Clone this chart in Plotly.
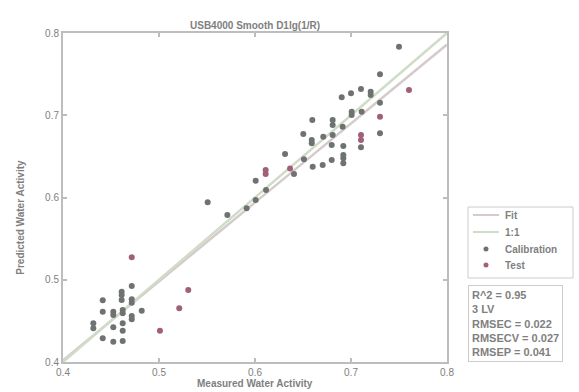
import plotly.graph_objects as go

# ---- data ----
cal_x = [0.4716, 0.4611, 0.4611, 0.4414, 0.4611, 0.4716, 0.4716, 0.4820, 0.4414, 0.4524,
         0.4524, 0.4622, 0.4622, 0.4716, 0.4716, 0.4316, 0.4316, 0.4524, 0.4622, 0.4622,
         0.4414, 0.4524, 0.4622,
         0.5507, 0.5712, 0.5913, 0.6007, 0.6115, 0.6007, 0.6406, 0.6313, 0.6510, 0.6601,
         0.7500, 0.7302, 0.7104, 0.7000, 0.6903, 0.7205, 0.7205, 0.7302, 0.7007, 0.7007,
         0.7111, 0.6913, 0.6597, 0.6809, 0.6809, 0.7302, 0.7104, 0.6503, 0.6711, 0.6809,
         0.6591, 0.6591, 0.6799, 0.6920, 0.6920, 0.6920, 0.6799, 0.6705, 0.6920]
cal_y = [0.4924, 0.4855, 0.4815, 0.4750, 0.4754, 0.4762, 0.4721, 0.4624, 0.4612, 0.4612,
         0.4571, 0.4632, 0.4592, 0.4559, 0.4519, 0.4471, 0.4410, 0.4422, 0.4471, 0.4381,
         0.4288, 0.4247, 0.4255,
         0.5942, 0.5787, 0.5869, 0.5970, 0.6091, 0.6204, 0.6286, 0.6529, 0.6464, 0.6374,
         0.7833, 0.7498, 0.7319, 0.7267, 0.7218, 0.7286, 0.7246, 0.7153, 0.7043, 0.7003,
         0.7043, 0.6861, 0.6942, 0.6942, 0.6881, 0.6780, 0.6610, 0.6772, 0.6739, 0.6760,
         0.6699, 0.6659, 0.6638, 0.6626, 0.6517, 0.6477, 0.6456, 0.6395, 0.6415]
test_x = [0.4716, 0.5305, 0.5211, 0.5010, 0.6111, 0.6111, 0.7604, 0.7302, 0.7104, 0.7104, 0.6365]
test_y = [0.5273, 0.4875, 0.4653, 0.4381, 0.6334, 0.6286, 0.7307, 0.6982, 0.6760, 0.6699, 0.6354]

line_x = [0.4, 0.8]
fit_slope = 0.96
fit_intercept = 0.018
fit_y = [fit_slope * v + fit_intercept for v in line_x]
one_y = list(line_x)

ticks = [0.4, 0.5, 0.6, 0.7, 0.8]
tick_text = ["0.4", "0.5", "0.6", "0.7", "0.8"]

legend_names = ["Fit", "1:1", "Calibration", "Test"]
stats = ["R^2 = 0.95", "3 LV", "RMSEC = 0.022", "RMSECV = 0.027", "RMSEP = 0.041"]

title = "USB4000 Smooth D1lg(1/R)"
xlab = "Measured Water Activity"
ylab = "Predicted Water Activity"

FONT = "Liberation Sans"
TXT = "#808080"
AX = "#bdbdbd"
FIT_C = "#d6cbcb"
ONE_C = "#cfdcc8"
CAL_C = "#6e7372"
TEST_C = "#a0607a"

fig = go.Figure()
fig.add_trace(go.Scatter(x=line_x, y=fit_y, mode="lines", name=legend_names[0],
                         line=dict(color=FIT_C, width=2.5)))
fig.add_trace(go.Scatter(x=line_x, y=one_y, mode="lines", name=legend_names[1],
                         line=dict(color=ONE_C, width=2.5)))
fig.add_trace(go.Scatter(x=cal_x, y=cal_y, mode="markers", name=legend_names[2],
                         marker=dict(color=CAL_C, size=6)))
fig.add_trace(go.Scatter(x=test_x, y=test_y, mode="markers", name=legend_names[3],
                         marker=dict(color=TEST_C, size=6)))

axis_common = dict(range=[0.4, 0.8], tickvals=ticks, ticktext=tick_text,
                   showgrid=False, zeroline=False, showline=True, linecolor=AX,
                   linewidth=2, mirror="ticks", ticks="inside", ticklen=4,
                   tickcolor=AX, tickwidth=1.5,
                   tickfont=dict(family=FONT, size=10, color=TXT))

L, R, T, B = 63, 447, 33, 362


def px(xp):
    return (xp - L) / (R - L)


def py(yp):
    return (B - yp) / (B - T)


fig.update_layout(
    width=579, height=392,
    margin=dict(l=L, r=579 - R, t=T, b=392 - B),
    paper_bgcolor="white", plot_bgcolor="white",
    xaxis=axis_common,
    yaxis=axis_common,
    showlegend=False,
    font=dict(family=FONT, color=TXT),
)

# custom legend box
shapes = [dict(type="rect", xref="paper", yref="paper",
               x0=px(468), x1=px(573), y0=py(278), y1=py(207),
               line=dict(color="#cccccc", width=1), fillcolor="white")]
entry_y = [215, 232, 249, 265]
styles = [("line", FIT_C), ("line", ONE_C), ("dot", CAL_C), ("dot", TEST_C)]
for name, ey, (kind, col) in zip(legend_names, entry_y, styles):
    if kind == "line":
        shapes.append(dict(type="line", xref="paper", yref="paper",
                           x0=px(473), x1=px(499), y0=py(ey), y1=py(ey),
                           line=dict(color=col, width=2)))
    else:
        shapes.append(dict(type="circle", xref="paper", yref="paper",
                           x0=px(483.5), x1=px(488.5), y0=py(ey + 2.5), y1=py(ey - 2.5),
                           line=dict(color=col, width=0), fillcolor=col))
    fig.add_annotation(text="<b>" + name + "</b>", xref="paper", yref="paper",
                       x=px(503), y=py(ey), xanchor="left", yanchor="middle",
                       showarrow=False, font=dict(family=FONT, size=10, color=TXT))
fig.update_layout(shapes=shapes)

fig.add_annotation(text="<b>" + title + "</b>", xref="paper", yref="paper",
                   x=0.5, y=1.0, yshift=15, showarrow=False,
                   font=dict(family=FONT, size=10, color=TXT))
fig.add_annotation(text="<b>" + xlab + "</b>", xref="paper", yref="paper",
                   x=0.5, y=0, yshift=-14, showarrow=False, yanchor="top",
                   font=dict(family=FONT, size=10, color=TXT))
fig.add_annotation(text="<b>" + ylab + "</b>", xref="paper", yref="paper",
                   x=0, xshift=-50, y=0.44, showarrow=False, textangle=-90,
                   font=dict(family=FONT, size=10, color=TXT))
fig.add_annotation(text="<b>" + "<br>".join(stats) + "</b>", xref="paper", yref="paper",
                   x=px(468), y=py(285), xanchor="left", yanchor="top", align="left",
                   showarrow=False, bordercolor="#cccccc", borderwidth=1,
                   bgcolor="white", borderpad=3,
                   font=dict(family=FONT, size=11, color=TXT))

fig.write_html("out.html")
